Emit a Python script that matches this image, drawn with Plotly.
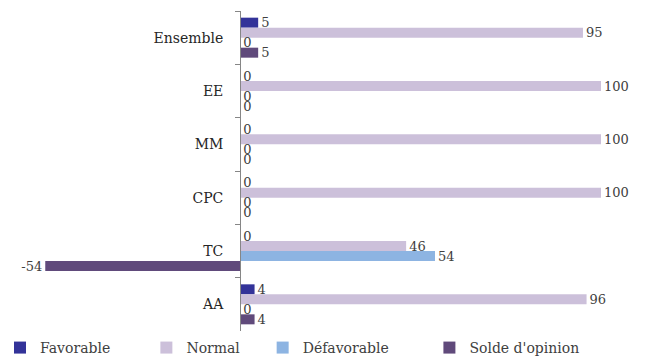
import plotly.graph_objects as go

# Categories and series values
categories = ["Ensemble", "EE", "MM", "CPC", "TC", "AA"]
favorable = [5, 0, 0, 0, 0, 4]
normal = [95, 100, 100, 100, 46, 96]
defavorable = [0, 0, 0, 0, 54, 0]
solde = [5, 0, 0, 0, -54, 4]

# (legend name, values, colour, trailing spacing in the legend)
series = [
    ("Favorable", favorable, "#333399", 7),
    ("Normal", normal, "#CCC0DA", 4),
    ("Défavorable", defavorable, "#8DB4E2", 8),
    ("Solde d'opinion", solde, "#604A7B", 0),
]

FONT = "DejaVu Serif"
TXT = "#404040"

fig = go.Figure()
for name, vals, color, pad in series:
    fig.add_trace(go.Bar(
        y=categories, x=vals, name=name + "\u00a0" * pad, orientation="h",
        marker=dict(color=color, line=dict(width=0)),
        text=[str(v) for v in vals], textposition="outside",
        constraintext="none",
        textfont=dict(family=FONT, size=13, color=TXT),
        cliponaxis=False,
    ))

x_min, x_max = -61, 100
fig.update_layout(
    width=654, height=358,
    margin=dict(l=20, r=53, t=11, b=27, autoexpand=False),
    paper_bgcolor="white", plot_bgcolor="white",
    barmode="group", bargap=0.25, bargroupgap=0,
    font=dict(family=FONT, size=14, color=TXT),
    xaxis=dict(range=[x_min, x_max], showgrid=False, zeroline=False,
               showticklabels=False, ticks="", showline=False),
    yaxis=dict(autorange="reversed", anchor="free",
               position=(0 - x_min) / (x_max - x_min),
               showline=True, linecolor="#868686", linewidth=1,
               ticks="outside", tickson="boundaries", ticklen=5,
               tickcolor="#868686", showgrid=False, ticklabelstandoff=14,
               tickfont=dict(family=FONT, size=14, color="#262626")),
    legend=dict(orientation="h", xref="container", x=-0.008, xanchor="left",
                yref="container", y=0.028, yanchor="middle",
                font=dict(family=FONT, size=14, color=TXT),
                traceorder="normal", itemwidth=30, bgcolor="rgba(0,0,0,0)"),
    showlegend=True,
)

fig.write_html("out.html")
